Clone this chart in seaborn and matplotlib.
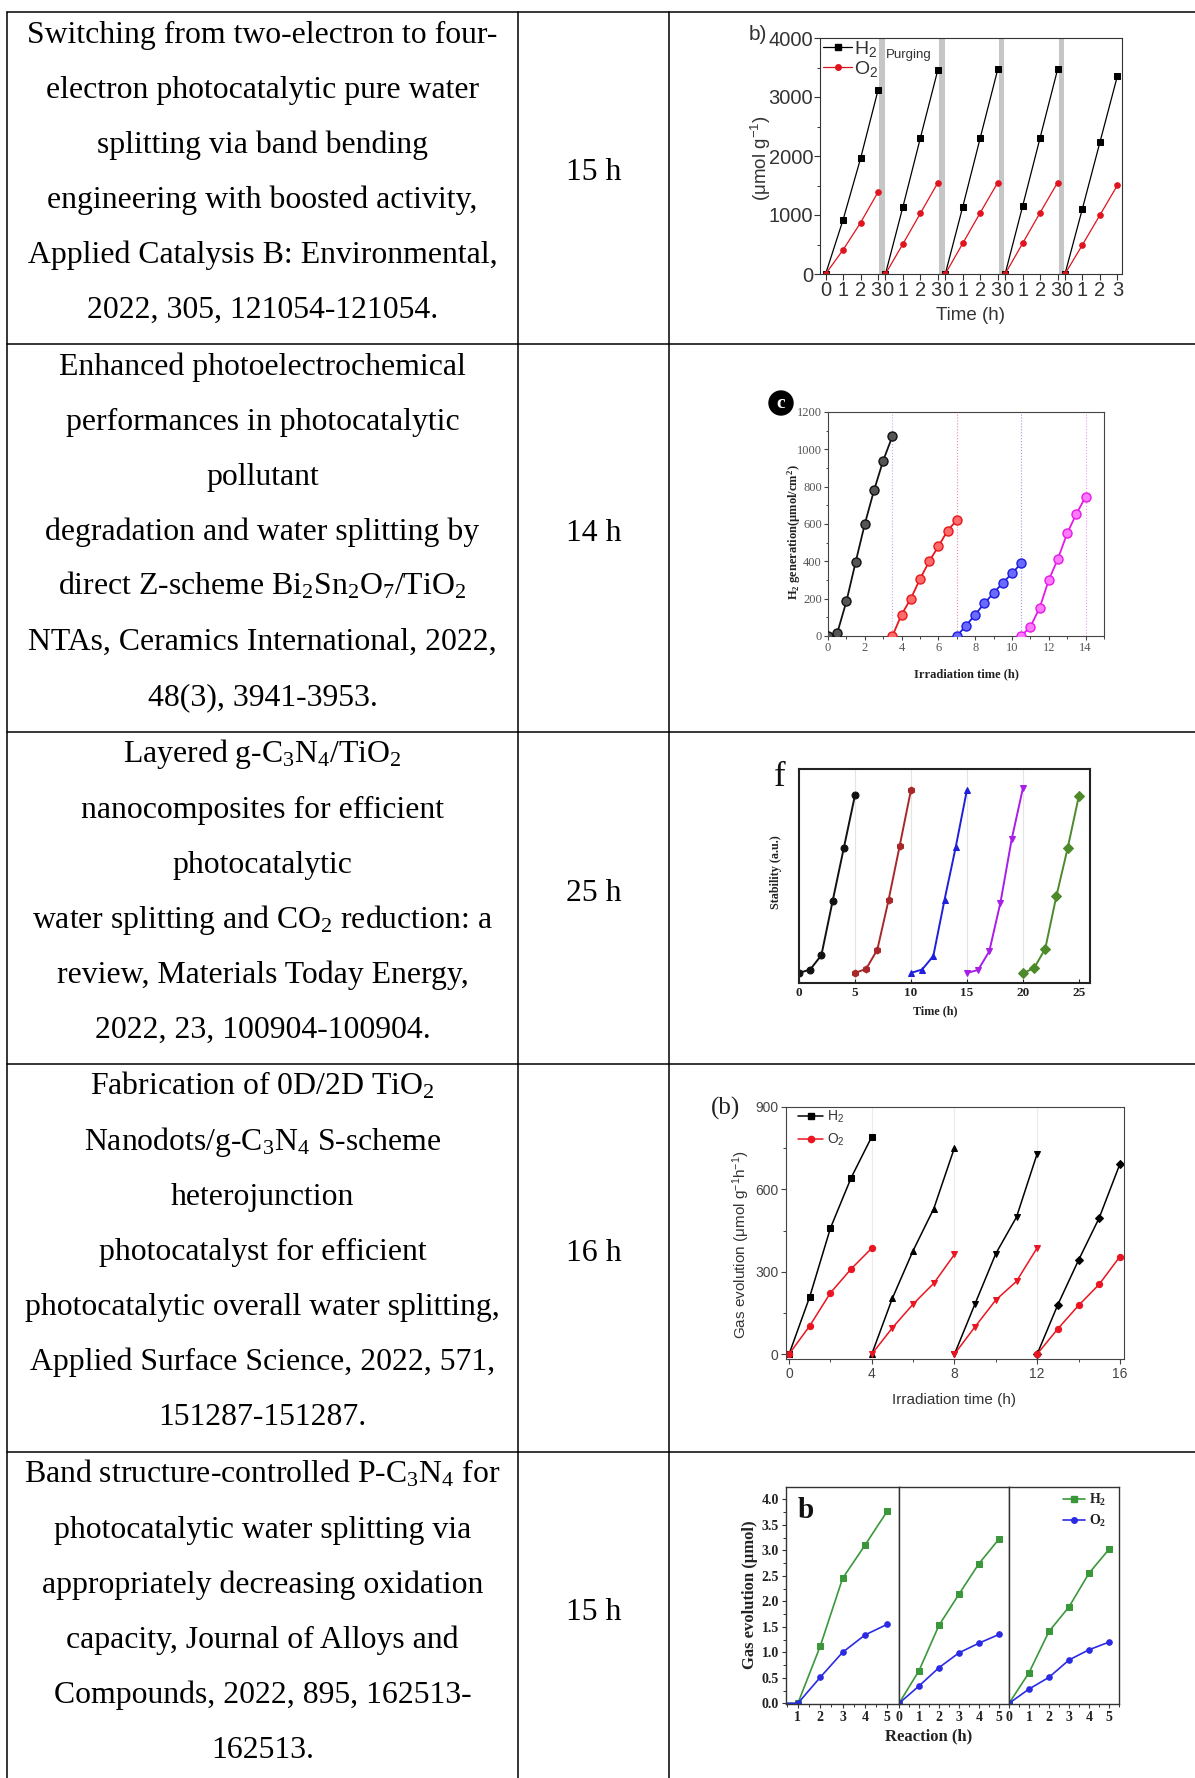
import matplotlib
matplotlib.use("Agg")
import matplotlib.pyplot as plt
import seaborn as sns
import numpy as np
import pandas as pd
from matplotlib.lines import Line2D
from matplotlib.ticker import MultipleLocator
from matplotlib.transforms import ScaledTranslation

# ------------------------------------------------------------------
# Table text
# ------------------------------------------------------------------
titles = [
    ["Switching from two-electron to four-",
     "electron photocatalytic pure water",
     "splitting via band bending",
     "engineering with boosted activity,",
     "Applied Catalysis B: Environmental,",
     "2022, 305, 121054-121054."],
    ["Enhanced photoelectrochemical",
     "performances in photocatalytic",
     "pollutant",
     "degradation and water splitting by",
     r"direct Z-scheme Bi$\mathregular{_2}$Sn$\mathregular{_2}$O$\mathregular{_7}$/TiO$\mathregular{_2}$",
     "NTAs, Ceramics International, 2022,",
     "48(3), 3941-3953."],
    [r"Layered g-C$\mathregular{_3}$N$\mathregular{_4}$/TiO$\mathregular{_2}$",
     "nanocomposites for efficient",
     "photocatalytic",
     r"water splitting and CO$\mathregular{_2}$ reduction: a",
     "review, Materials Today Energy,",
     "2022, 23, 100904-100904."],
    [r"Fabrication of 0D/2D TiO$\mathregular{_2}$",
     r"Nanodots/g-C$\mathregular{_3}$N$\mathregular{_4}$ S-scheme",
     "heterojunction",
     "photocatalyst for efficient",
     "photocatalytic overall water splitting,",
     "Applied Surface Science, 2022, 571,",
     "151287-151287."],
    [r"Band structure-controlled P-C$\mathregular{_3}$N$\mathregular{_4}$ for",
     "photocatalytic water splitting via",
     "appropriately decreasing oxidation",
     "capacity, Journal of Alloys and",
     "Compounds, 2022, 895, 162513-",
     "162513."],
]
durations = ["15 h", "14 h", "25 h", "16 h", "15 h"]

# ------------------------------------------------------------------
# Panel 1: H2 / O2 cycles with purging (umol g-1)
# ------------------------------------------------------------------
c1_hours = [0, 1, 2, 3]
c1_h2 = [[0, 920, 1960, 3120],
         [0, 1140, 2310, 3465],
         [0, 1140, 2310, 3470],
         [0, 1150, 2310, 3470],
         [0, 1110, 2235, 3360]]
c1_o2 = [[0, 410, 870, 1390],
         [0, 510, 1030, 1550],
         [0, 520, 1040, 1550],
         [0, 520, 1040, 1550],
         [0, 495, 1000, 1505]]

# Panel 2: H2 generation (umol/cm2) over four runs
c2_time = [[0, 0.5, 1, 1.5, 2, 2.5, 3, 3.5],
           [3.5, 4, 4.5, 5, 5.5, 6, 6.5, 7],
           [7, 7.5, 8, 8.5, 9, 9.5, 10, 10.5],
           [10.5, 11, 11.5, 12, 12.5, 13, 13.5, 14]]
c2_h2 = [[0, 15, 185, 395, 600, 780, 940, 1070],
         [0, 115, 200, 305, 400, 480, 565, 620],
         [0, 55, 115, 175, 230, 285, 335, 390],
         [0, 50, 150, 300, 415, 550, 655, 745]]

# Panel 3: stability over five runs (a.u.)
c3_time = [[0, 1, 2, 3, 4, 5],
           [5, 6, 7, 8, 9, 10],
           [10, 11, 12, 13, 14, 15],
           [15, 16, 17, 18, 19, 20],
           [20, 21, 22, 23, 24, 25]]
c3_val = [[4.7, 6.3, 13.0, 38.2, 63.0, 87.7],
          [4.7, 6.6, 15.6, 38.7, 64.2, 90.1],
          [4.7, 6.3, 12.6, 38.8, 63.4, 90.1],
          [4.7, 6.1, 14.8, 37.6, 67.1, 90.9],
          [4.6, 6.9, 16.0, 40.7, 62.9, 87.3]]

# Panel 4: gas evolution (umol g-1 h-1) over four runs
c4_time = [[0, 1, 2, 3, 4],
           [4, 5, 6, 7, 8],
           [8, 9, 10, 11, 12],
           [12, 13, 14, 15, 16]]
c4_h2 = [[0, 209, 459, 642, 792],
         [0, 204, 377, 530, 752],
         [0, 184, 366, 499, 730],
         [0, 180, 342, 496, 692]]
c4_o2 = [[0, 103, 223, 310, 386],
         [0, 96, 182, 258, 363],
         [0, 100, 197, 265, 387],
         [0, 92, 177, 254, 355]]

# Panel 5: gas evolution (umol), three runs of 5 h
c5_hours = [0, 1, 2, 3, 4, 5]
c5_h2 = [[0, 0, 1.12, 2.45, 3.10, 3.77],
         [0, 0.64, 1.53, 2.14, 2.74, 3.22],
         [0, 0.60, 1.41, 1.89, 2.55, 3.02]]
c5_o2 = [[0, 0, 0.51, 1.00, 1.34, 1.55],
         [0, 0.34, 0.70, 0.99, 1.18, 1.35],
         [0, 0.28, 0.51, 0.85, 1.05, 1.20]]

# ------------------------------------------------------------------
W, H, DPI = 1195, 1778, 100
sns.set_theme(style="ticks")
SERIF = ["Liberation Serif", "DejaVu Serif"]
SANS = ["Liberation Sans", "DejaVu Sans"]
plt.rcParams.update({
    "font.family": SERIF,
    "text.color": "black",
    "axes.edgecolor": "black",
    "axes.labelcolor": "black",
    "xtick.color": "black",
    "ytick.color": "black",
    "axes.facecolor": "white",
    "figure.facecolor": "white",
    "axes.linewidth": 0.8,
    "xtick.major.width": 0.8,
    "ytick.major.width": 0.8,
    "xtick.minor.width": 0.7,
    "ytick.minor.width": 0.7,
})

fig = plt.figure(figsize=(W / DPI, H / DPI), dpi=DPI)


def fx(x):
    return x / W


def fy(y):
    return 1 - y / H


def px_axes(l, t, r, b):
    return fig.add_axes([fx(l), fy(b), (r - l) / W, (b - t) / H])


def line(ax, xs, ys, **kw):
    sns.lineplot(x=xs, y=ys, ax=ax, estimator=None, sort=False, **kw)


def place_labels(ax, xlabel, xpos, ylabel, ypos, **kw):
    ax.set_xlabel(xlabel, va="center", ha="center", **kw)
    ax.set_ylabel(ylabel, va="center", ha="center", **kw)
    ax.xaxis.set_label_coords(fx(xpos[0]), fy(xpos[1]), transform=fig.transFigure)
    ax.yaxis.set_label_coords(fx(ypos[0]), fy(ypos[1]), transform=fig.transFigure)


def legend_at(ax, handles, labels, x_left, y_top, **kw):
    return ax.legend(handles, labels, loc="upper left",
                     bbox_to_anchor=(fx(x_left), fy(y_top)),
                     bbox_transform=fig.transFigure, frameon=False,
                     borderpad=0, borderaxespad=0, **kw)


# ------------------------------------------------------------------
# Table grid and text
# ------------------------------------------------------------------
ROW_Y = [12, 344, 732, 1064, 1452]
COL_X = [7, 518, 669]
for y in ROW_Y:
    fig.add_artist(Line2D([fx(COL_X[0]), 1.0], [fy(y), fy(y)], color="black",
                          lw=1.1, transform=fig.transFigure))
for x in COL_X:
    fig.add_artist(Line2D([fx(x), fx(x)], [fy(ROW_Y[0]), 0.0], color="black",
                          lw=1.1, transform=fig.transFigure))

LINE_STEP = 55.1
TEXT_PT = 22.9
for r, lines in enumerate(titles):
    for k, s in enumerate(lines):
        y = ROW_Y[r] + 20.5 + k * LINE_STEP
        fig.text(fx(262.5), fy(y + 10), s, ha="center", va="baseline",
                 fontsize=TEXT_PT, family=SERIF)

DUR_Y = [170, 531, 891, 1251, 1610]
for d, y in zip(durations, DUR_Y):
    fig.text(fx(594), fy(y + 10), d, ha="center", va="baseline",
             fontsize=TEXT_PT, family=SERIF)

# ------------------------------------------------------------------
# Panel 1
# ------------------------------------------------------------------
ax1 = px_axes(820, 38, 1122, 274)
C1_SHIFT = 3.42
GRAY1 = "#333333"
for sp in ax1.spines.values():
    sp.set_color(GRAY1)
for i in range(4):
    ax1.axvspan(i * C1_SHIFT + 3.06, i * C1_SHIFT + 3.38, color="#c6c6c6", lw=0, zorder=0)
c1_ticks, c1_labels = [], []
for i in range(5):
    xs = [h + i * C1_SHIFT for h in c1_hours]
    c1_ticks += xs
    c1_labels += [str(h) for h in c1_hours]
    line(ax1, xs, c1_h2[i], color="black", marker="s", ms=4, mec="black", lw=0.9)
    line(ax1, xs, c1_o2[i], color="#e0141e", marker="o", ms=4, mec="#e0141e", lw=0.9)
ax1.set_xlim(-0.32, 16.94)
ax1.set_ylim(0, 4000)
ax1.set_yticks([0, 1000, 2000, 3000, 4000], ["0", "1000", "2000", "3000", "4000"],
               fontsize=14.5, family=SANS, color=GRAY1)
ax1.yaxis.set_minor_locator(MultipleLocator(500))
ax1.tick_params(which="major", direction="out", length=4, pad=1, color=GRAY1)
ax1.tick_params(which="minor", direction="out", length=2.5, color=GRAY1)
ax1.set_xticks(c1_ticks, c1_labels, fontsize=14.5, family=SANS, color=GRAY1)
# the "3" closing one run and the "0" opening the next are pushed slightly apart
n1 = len(c1_ticks)
for j, lab in enumerate(ax1.get_xticklabels()):
    h = j % 4
    dx = 0.0
    if h == 3 and j != n1 - 1:
        dx = -2.2
    elif h == 0 and j != 0:
        dx = 2.2
    if dx:
        lab.set_transform(lab.get_transform() +
                          ScaledTranslation(dx / DPI, 0, fig.dpi_scale_trans))
place_labels(ax1, "Time (h)", (971, 315), r"(μmol g$\mathregular{^{-1}}$)", (761, 158),
             fontsize=13.5, family=SANS, color=GRAY1)
h1 = [Line2D([], [], color="black", marker="s", ms=4, lw=0.9),
      Line2D([], [], color="#e0141e", marker="o", ms=4, lw=0.9)]
legend_at(ax1, h1, [r"H$\mathregular{_2}$", r"O$\mathregular{_2}$"], 823, 39,
          handlelength=1.5, handletextpad=0.1, labelspacing=0.0,
          prop={"family": SANS, "size": 14}, labelcolor=GRAY1)
fig.text(fx(909), fy(55), "Purging", ha="center", va="center", fontsize=9.5,
         family=SANS, color=GRAY1)
fig.text(fx(758), fy(34), "b)", ha="center", va="center", fontsize=15,
         family=SANS, color=GRAY1)

# ------------------------------------------------------------------
# Panel 2
# ------------------------------------------------------------------
ax2 = px_axes(828, 412, 1104, 636)
GRAY2 = "#555555"
for sp in ax2.spines.values():
    sp.set_color("#444444")
c2_colors = ["#111111", "#e8171b", "#1c1ce0", "#e619e6"]
c2_faces = ["#555555", "#ff6a6a", "#6a6aff", "#ff7aff"]
c2_guides = ["#c9a6e6", "#f08a9a", "#9a9af0", "#e89ae8"]
for k in range(4):
    ax2.axvline(c2_time[k][-1], color=c2_guides[k], lw=0.8, ls=":", zorder=1)
for k in range(4):
    line(ax2, c2_time[k], c2_h2[k], color=c2_colors[k], marker="o", ms=6.5,
         mfc=c2_faces[k], mec=c2_colors[k], mew=1.0, lw=1.3, zorder=3)
ax2.set_xlim(0, 15)
ax2.set_ylim(0, 1200)
ax2.set_xticks(range(0, 15, 2), [str(v) for v in range(0, 15, 2)],
               fontsize=9, family=SERIF, color=GRAY2)
ax2.set_yticks(range(0, 1201, 200), [str(v) for v in range(0, 1201, 200)],
               fontsize=9, family=SERIF, color=GRAY2)
ax2.xaxis.set_minor_locator(MultipleLocator(1))
ax2.yaxis.set_minor_locator(MultipleLocator(100))
ax2.tick_params(which="major", direction="out", length=3, pad=1.5, color="#444444")
ax2.tick_params(which="minor", direction="out", length=1.8, color="#444444")
place_labels(ax2, "Irradiation time (h)", (966, 674),
             r"H$\mathregular{_2}$ generation(μmol/cm$\mathregular{^2}$)", (794, 532),
             fontsize=9, family=SERIF, fontweight="bold", color="#222222")
fig.text(fx(781), fy(403), "c", ha="center", va="center", fontsize=14,
         fontweight="bold", color="white", family=SERIF,
         bbox=dict(boxstyle="circle,pad=0.18", fc="black", ec="black"))

# ------------------------------------------------------------------
# Panel 3
# ------------------------------------------------------------------
ax3 = px_axes(799, 769, 1090, 983)
for sp in ax3.spines.values():
    sp.set_linewidth(1.5)
    sp.set_color("#222222")
c3_colors = ["#111111", "#a8282a", "#1f1fdc", "#a81ee6", "#4c8a2a"]
c3_marks = ["o", "h", "^", "v", "D"]
for x in [5, 10, 15, 20]:
    ax3.axvline(x, color="#e4e4e4", lw=0.8, zorder=0)
for k in range(5):
    line(ax3, c3_time[k], c3_val[k], color=c3_colors[k], marker=c3_marks[k], ms=5,
         mec=c3_colors[k], lw=1.4)
ax3.set_xlim(0, 26)
ax3.set_ylim(0, 100)
ax3.set_xticks(range(0, 26, 5), [str(v) for v in range(0, 26, 5)],
               fontsize=9.5, family=SERIF, fontweight="bold", color="#222222")
ax3.set_yticks([])
ax3.tick_params(axis="x", direction="in", length=3, pad=3, color="#222222")
place_labels(ax3, "Time (h)", (935, 1011), "Stability (a.u.)", (776, 872),
             fontsize=8.7, family=SERIF, fontweight="bold", color="#222222")
fig.text(fx(780), fy(777), "f", ha="center", va="center", fontsize=25,
         family=SERIF, color="#111111")

# ------------------------------------------------------------------
# Panel 4
# ------------------------------------------------------------------
ax4 = px_axes(786, 1107, 1124, 1359)
GRAY4 = "#444444"
for sp in ax4.spines.values():
    sp.set_color(GRAY4)
for x in [4, 8, 12]:
    ax4.axvline(x, color="#ececec", lw=0.8, zorder=0)
h2_marks = ["s", "^", "v", "D"]
o2_marks = ["o", "v", "v", "o"]
for k in range(4):
    line(ax4, c4_time[k], c4_h2[k], color="black", marker=h2_marks[k], ms=4.5,
         mec="black", lw=1.1)
    line(ax4, c4_time[k], c4_o2[k], color="#ea1520", marker=o2_marks[k], ms=4.5,
         mec="#ea1520", lw=1.1)
ax4.set_xlim(-0.15, 16.2)
ax4.set_ylim(-18, 900)
ax4.set_xticks(range(0, 17, 4), [str(v) for v in range(0, 17, 4)],
               fontsize=10, family=SANS, color=GRAY4)
ax4.set_yticks([0, 300, 600, 900], ["0", "300", "600", "900"],
               fontsize=10, family=SANS, color=GRAY4)
ax4.xaxis.set_minor_locator(MultipleLocator(2))
ax4.yaxis.set_minor_locator(MultipleLocator(150))
ax4.tick_params(which="major", direction="out", length=3.5, pad=2, color=GRAY4)
ax4.tick_params(which="minor", direction="out", length=2, color=GRAY4)
place_labels(ax4, "Irradiation time (h)", (954, 1400),
             r"Gas evolution (μmol g$\mathregular{^{-1}}$h$\mathregular{^{-1}}$)", (741, 1245),
             fontsize=11, family=SANS, color="#333333")
h4 = [Line2D([], [], color="black", marker="s", ms=4.5, lw=1.1),
      Line2D([], [], color="#ea1520", marker="o", ms=4.5, lw=1.1)]
legend_at(ax4, h4, [r"H$\mathregular{_2}$", r"O$\mathregular{_2}$"], 798, 1109,
          handlelength=1.8, handletextpad=0.3, labelspacing=0.45,
          prop={"family": SANS, "size": 10}, labelcolor="#333333")
fig.text(fx(725), fy(1108), "(b)", ha="center", va="center", fontsize=18,
         family=SERIF, color="#222222")

# ------------------------------------------------------------------
# Panel 5 (three adjoining runs)
# ------------------------------------------------------------------
edges = [786, 899, 1009, 1119]
p5 = [px_axes(edges[i], 1487, edges[i + 1], 1704) for i in range(3)]
GREEN, BLUE = "#3a983a", "#2b2be4"
for i, ax in enumerate(p5):
    for sp in ax.spines.values():
        sp.set_color("#333333")
        sp.set_linewidth(1.0)
    line(ax, c5_hours, c5_h2[i], color=GREEN, marker="s", ms=4, mec=GREEN, lw=1.2)
    line(ax, c5_hours, c5_o2[i], color=BLUE, marker="o", ms=4, mec=BLUE, lw=1.2)
    ax.set_ylim(-0.013, 4.24)
    if i == 0:
        ax.set_xlim(0.47, 5.52)
        ticks = [1, 2, 3, 4, 5]
        yt = [0, 0.5, 1, 1.5, 2, 2.5, 3, 3.5, 4]
        ax.set_yticks(yt, [f"{v:.1f}" for v in yt], fontsize=10, family=SERIF,
                      fontweight="bold", color="#222222")
        ax.yaxis.set_minor_locator(MultipleLocator(0.25))
    else:
        ax.set_xlim(0, 5.5)
        ticks = [0, 1, 2, 3, 4, 5]
        ax.set_yticks([])
    ax.set_xticks(ticks, [str(t) for t in ticks], fontsize=10, family=SERIF,
                  fontweight="bold", color="#222222")
    ax.xaxis.set_minor_locator(MultipleLocator(0.5))
    ax.tick_params(which="major", direction="out", length=3, pad=2, color="#333333")
    ax.tick_params(which="minor", direction="out", length=2, color="#333333")
    if i > 0:
        ax.tick_params(axis="y", which="both", left=False)
    ax.set_xlabel("")
    ax.set_ylabel("")
place_labels(p5[0], "Reaction (h)", (929, 1736), "Gas evolution (μmol)", (750, 1595),
             fontsize=12, family=SERIF, fontweight="bold", color="#222222")
h5 = [Line2D([], [], color=GREEN, marker="s", ms=4, lw=1.2),
      Line2D([], [], color=BLUE, marker="o", ms=4, lw=1.2)]
legend_at(p5[2], h5, [r"H$\mathregular{_2}$", r"O$\mathregular{_2}$"], 1063, 1492,
          handlelength=1.6, handletextpad=0.3, labelspacing=0.35,
          prop={"family": SERIF, "size": 10, "weight": "bold"}, labelcolor="#222222")
fig.text(fx(806), fy(1510), "b", ha="center", va="center", fontsize=21,
         family=SERIF, fontweight="bold", color="#111111")

fig.savefig("out.png", dpi=DPI)
